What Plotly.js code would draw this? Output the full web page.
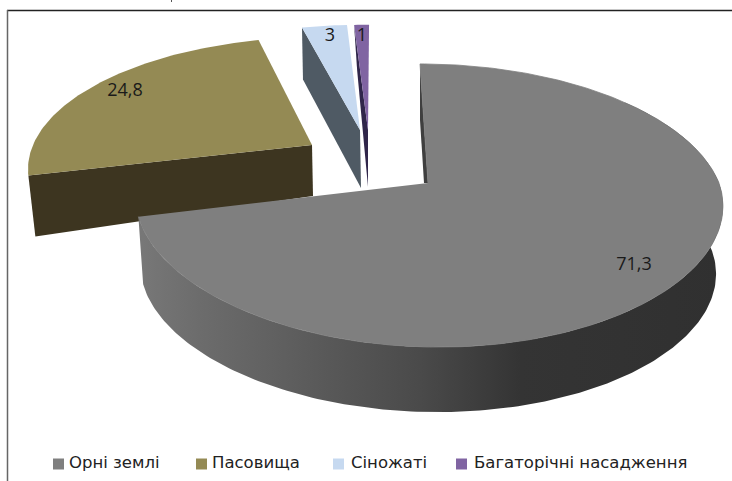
<!DOCTYPE html>
<html><head><meta charset="utf-8">
<script src="https://cdn.plot.ly/plotly-3.0.1.min.js"></script>
<style>html,body{margin:0;padding:0;background:#fff}#c{width:732px;height:481px}</style>
</head><body><div id="c"></div>
<script>
var categories = ['Орні землі','Пасовища','Сіножаті','Багаторічні насадження'];
var values = [71.3,24.8,3,1];
var valueLabels = ['71,3','24,8','3','1'];
var faceColors = ['#7f7f7f','#948a54','#c6d9f0','#8064a2'];
var wallColors = ['#3f3f3f','#3d3520','#4f5a64','#30264a'];
// drawing-only geometry of the tilted, exploded pie (screen pixels)
var K = 0.159;
var geom = [
  {x0:428,y0:183,A:291,B:138,s:0.067,f:0.0002},
  {x0:312,y0:145,A:279,B:125,s:-0.063,f:0},
  {x0:360,y0:130,A:279,B:122,s:-0.02,f:0},
  {x0:368,y0:130,A:276,B:122,s:-0.01,f:0}
];
var total = values.reduce(function(a,b){return a+b;},0);
var cum = 0;
var angles = values.map(function(v){var a=cum/total*360;cum+=v;return [a,cum/total*360];});
function pt(i,deg,dy,sc,dx){
  var g=geom[i],t=deg*Math.PI/180,X=Math.sin(t),Y=Math.cos(t),w=1+K*Y;
  var sy=-g.B*(sc||1)*Y/w;
  var narrow=1-g.f*Math.max(sy,0);
  return [g.x0+(dx||0)+g.A*(sc||1)*narrow*X/w+g.s*sy, g.y0+sy+(dy||0)];
}
function arc(i,a,b,dy,sc,dx){var o=[],n=Math.max(2,Math.ceil(Math.abs(b-a)));for(var k=0;k<=n;k++){o.push(pt(i,a+(b-a)*k/n,dy,sc,dx));}return o;}
function poly(points,color,extra){
  var tr={type:'scatter',mode:'lines',x:points.map(function(p){return p[0];}),y:points.map(function(p){return p[1];}),
    fill:'toself',fillcolor:color,line:{width:0,color:color},hoverinfo:'skip',showlegend:false};
  for(var k in extra){tr[k]=extra[k];}
  return tr;
}
function face(i){return [[geom[i].x0,geom[i].y0]].concat(arc(i,angles[i][0],angles[i][1]));}
var traces=[];
// olive slice
var oc=pt(1,angles[1][0]);
traces.push(poly([oc,[geom[1].x0,geom[1].y0],[geom[1].x0+1,geom[1].y0+51],[oc[0]+7,oc[1]+61]],wallColors[1]));
traces.push(poly(face(1),faceColors[1]));
// light-blue slice
var bc=pt(2,angles[2][0]);
traces.push(poly([bc,[geom[2].x0,geom[2].y0],[geom[2].x0+1,geom[2].y0+58],[bc[0]+1,bc[1]+52]],wallColors[2]));
traces.push(poly(face(2),faceColors[2]));
// purple slice
var pc=pt(3,angles[3][0]);
traces.push(poly([pc,[geom[3].x0,geom[3].y0],[geom[3].x0,geom[3].y0+57],[pc[0]+3,pc[1]+45]],wallColors[3]));
traces.push(poly(face(3),faceColors[3]));
// grey slice: inner wall, rim, face
var g0=pt(0,angles[0][0]);
traces.push(poly([g0,[g0[0],g0[1]+56],[424,183],[428,183]],wallColors[0]));
var rim=arc(0,50,angles[0][1]).concat(arc(0,angles[0][1],50,68.3,0.98,-1));
traces.push(poly(rim,'#555',{fillgradient:{type:'horizontal',start:137,stop:723,
  colorscale:[[0,'#787878'],[0.107,'#6c6c6c'],[0.483,'#4a4a4a'],[0.654,'#343434'],[1,'#303030']]}}));
traces.push(poly(face(0),faceColors[0],{line:{width:0.8,color:faceColors[0]}}));
// value labels
traces.push({type:'scatter',mode:'text',x:[634,125,330,362],y:[265,91,36,36],text:valueLabels,
  textposition:'middle center',textfont:{family:'Open Sans, sans-serif',size:18,color:'#1a1a1a'},hoverinfo:'skip',showlegend:false});
// legend
var lx=[58.5,201.5,338.5,461.5], tx=[69,212,351,474];
categories.forEach(function(c,i){
  traces.push({type:'scatter',mode:'markers',x:[lx[i]],y:[464],marker:{symbol:'square',size:11,color:faceColors[i]},hoverinfo:'skip',showlegend:false,name:c});
  traces.push({type:'scatter',mode:'text',x:[tx[i]],y:[464],text:[c],textposition:'middle right',
    textfont:{family:'DejaVu Sans, sans-serif',size:16.5,color:'#222'},hoverinfo:'skip',showlegend:false});
});
var layout={width:732,height:481,margin:{l:0,r:0,t:0,b:0},paper_bgcolor:'#fff',plot_bgcolor:'#fff',showlegend:false,
  xaxis:{range:[0,732],visible:false,fixedrange:true},yaxis:{range:[481,0],visible:false,fixedrange:true},
  shapes:[
    {type:'line',xref:'x',yref:'y',x0:7,x1:732,y0:10.5,y1:10.5,line:{color:'#222',width:1.5}},
    {type:'line',xref:'x',yref:'y',x0:7.5,x1:7.5,y0:10,y1:481,line:{color:'#666',width:1.5}},
    {type:'line',xref:'x',yref:'y',x0:171.5,x1:171.5,y0:0,y1:2,line:{color:'#555',width:1}}
  ]};
Plotly.newPlot('c',traces,layout,{displayModeBar:false,staticPlot:true});
</script></body></html>
